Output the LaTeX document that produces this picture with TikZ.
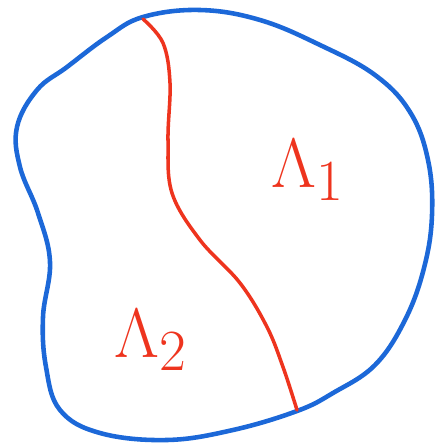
\documentclass[tikz,border=0pt]{standalone}
\usepackage{tikz}

\definecolor{penblue}{RGB}{28,104,216}
\definecolor{penred}{RGB}{238,52,30}

\begin{document}
\begin{tikzpicture}[
    x=0.02cm, y=-0.02cm,
    outline/.style={penblue, line width=2.6pt, line join=round},
    cut/.style={penred, line width=2pt, line cap=round},
    region/.style={penred, font=\Huge, scale=1.6, inner sep=0pt},
]
\useasboundingbox (0,0) rectangle (442,443);

% Domain boundary
\draw[outline] plot[smooth cycle, tension=0.65] coordinates {
    (143,17) (200,10) (260,20) (320,45) (375,75) (410,112) (428,160)
    (432,215) (424,268) (405,320) (375,365) (333,393) (297,411)
    (233,430) (167,440) (100,433) (60,410) (46,367) (43,317) (50,262)
    (38,213) (20,167) (17,127) (37,90) (67,67) (107,37)};

% Interface between the two parts
\coordinate (top) at (143,19);
\coordinate (bot) at (297,410);
\draw[cut] plot[smooth, tension=0.6] coordinates {
    (top) (163,43) (170,83) (168,140) (172,193) (200,240) (240,283)
    (267,327) (283,367) (bot)};

% Labels
\node[region] (lam1) at (308,170) {$\Lambda_1$};
\node[region] (lam2) at (151,340) {$\Lambda_2$};

\end{tikzpicture}
\end{document}
